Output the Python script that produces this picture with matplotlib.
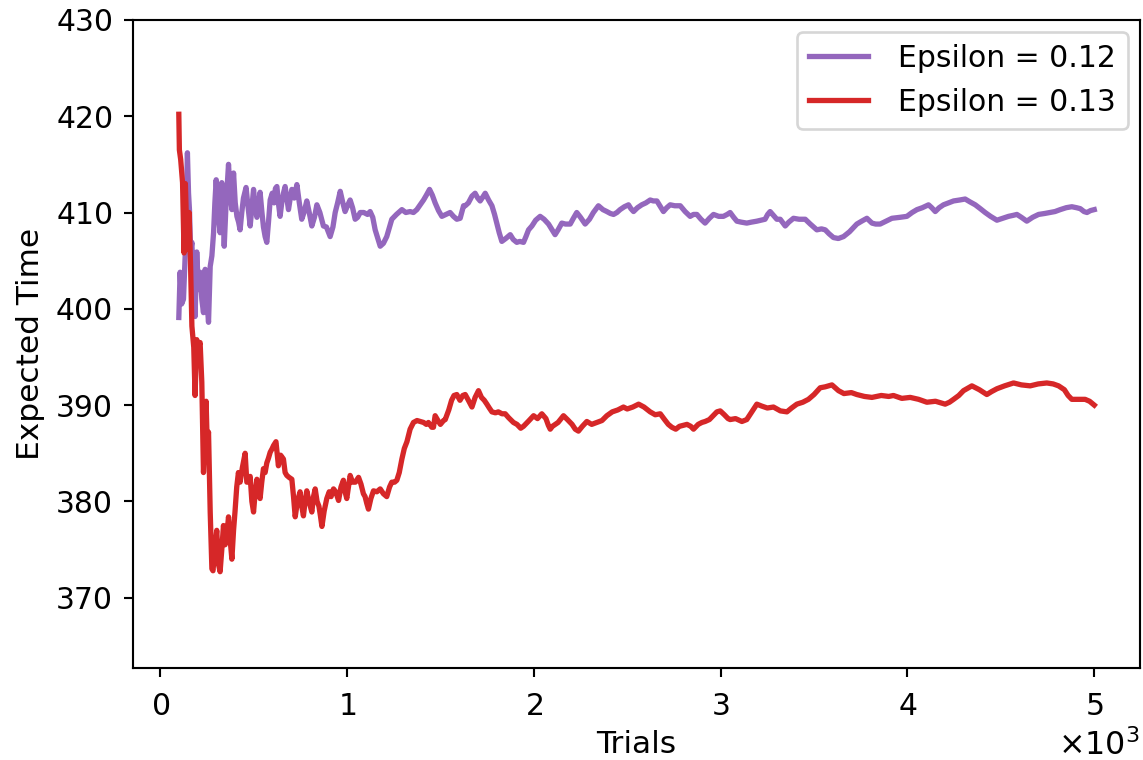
import matplotlib
matplotlib.use("Agg")
import matplotlib.pyplot as plt

# ── 데이터 ─────────────────────────────────────────

trials_012 = [
    100, 107, 115, 125, 135, 146, 152, 157, 163, 170, 178, 187, 196, 205, 214,
    223, 232, 241, 250, 259, 268, 277, 286, 293, 300, 310, 321, 330, 337, 343,
    352, 360, 366, 375, 384, 393, 402, 411, 420, 428, 437, 446, 460, 471, 482,
    491, 500, 509, 518, 527, 535, 545, 553, 562, 571, 580, 589, 600, 610, 617,
    625, 633, 642, 651, 660, 669, 678, 687, 695, 705, 718, 732, 745, 758, 770,
    785, 798, 812, 826, 839, 855, 874, 890, 910, 925, 937, 950, 964, 978, 990,
    1005, 1017, 1030, 1044, 1057, 1071, 1090, 1110, 1124, 1138, 1151, 1165,
    1178, 1195, 1213, 1228, 1240, 1265, 1294, 1315, 1338, 1356, 1374, 1392,
    1410, 1425, 1442, 1457, 1472, 1490, 1508, 1530, 1552, 1570, 1588, 1606,
    1624, 1633, 1650, 1669, 1686, 1700, 1713, 1727, 1740, 1758, 1776, 1790,
    1802, 1815, 1829, 1850, 1874, 1890, 1909, 1925, 1945, 1958, 1972, 1990,
    2010, 2034, 2055, 2079, 2095, 2114, 2130, 2150, 2170, 2195, 2212, 2230,
    2250, 2275, 2298, 2319, 2346, 2370, 2391, 2410, 2427, 2445, 2462, 2485,
    2507, 2520, 2534, 2555, 2578, 2600, 2623, 2640, 2659, 2675, 2694, 2712,
    2730, 2755, 2784, 2810, 2837, 2855, 2873, 2895, 2917, 2940, 2962, 2990,
    3015, 3035, 3051, 3070, 3087, 3110, 3140, 3165, 3194, 3215, 3238, 3252,
    3265, 3283, 3301, 3319, 3346, 3365, 3390, 3420, 3453, 3480, 3515, 3540,
    3560, 3580, 3604, 3630, 3658, 3690, 3729, 3755, 3783, 3810, 3830, 3854,
    3885, 3917, 3960, 3997, 4025, 4051, 4080, 4113, 4130, 4149, 4170, 4193,
    4220, 4247, 4280, 4309, 4335, 4363, 4390, 4416, 4445, 4479, 4510, 4541,
    4565, 4586, 4610, 4639, 4670, 4702, 4735, 4764, 4790, 4818, 4850, 4880,
    4905, 4925, 4945, 4961, 4980, 5000,
]
time_012 = [
    399.1, 403.8, 400.5, 401.0, 406.0, 416.2, 412.0, 410.3, 406.0, 406.9,
    402.0, 399.2, 405.9, 402.0, 403.8, 401.0, 399.6, 404.1, 401.0, 398.6,
    404.4, 405.5, 407.9, 411.0, 413.4, 410.0, 407.9, 413.1, 410.0, 406.5,
    410.5, 413.0, 415.0, 412.0, 410.3, 414.1, 411.0, 409.6, 409.0, 408.2,
    410.0, 411.5, 412.6, 410.5, 408.6, 410.5, 412.4, 410.5, 409.5, 411.0,
    412.1, 410.0, 408.5, 407.5, 406.9, 409.0, 411.3, 412.0, 411.0, 412.5,
    412.7, 411.0, 409.6, 411.0, 412.0, 412.7, 411.5, 410.3, 411.3, 412.4,
    411.5, 412.9, 411.0, 409.3, 410.0, 411.2, 410.0, 408.6, 409.5, 410.8,
    410.0, 408.6, 408.5, 407.5, 408.5, 410.0, 411.0, 412.2, 411.0, 410.1,
    410.8, 411.3, 410.5, 409.3, 409.5, 410.0, 410.0, 409.8, 410.1, 409.5,
    408.2, 407.3, 406.5, 406.8, 407.5, 408.5, 409.3, 409.8, 410.3, 410.0,
    410.1, 410.0, 410.3, 410.8, 411.3, 411.8, 412.4, 411.8, 411.0, 410.2,
    409.6, 409.8, 410.0, 409.6, 409.3, 409.4, 410.7, 410.7, 411.0, 411.7,
    412.0, 411.5, 411.2, 411.6, 412.0, 411.3, 410.7, 409.8, 408.9, 407.9,
    407.0, 407.3, 407.7, 407.2, 406.9, 407.0, 406.9, 407.5, 408.2, 408.6,
    409.2, 409.6, 409.3, 408.8, 408.3, 407.7, 408.2, 408.9, 408.8, 408.8,
    409.4, 410.0, 409.5, 408.8, 409.3, 410.0, 410.7, 410.3, 410.1, 409.9,
    409.8, 410.0, 410.3, 410.6, 410.8, 410.4, 410.1, 410.5, 410.8, 411.0,
    411.3, 411.2, 411.2, 410.7, 410.1, 410.5, 410.8, 410.7, 410.7, 410.1,
    409.6, 409.8, 409.8, 409.3, 408.9, 409.4, 409.8, 409.6, 409.6, 409.8,
    410.0, 409.5, 409.1, 409.0, 408.9, 409.0, 409.1, 409.2, 409.3, 409.8,
    410.1, 409.7, 409.3, 409.3, 408.6, 409.0, 409.4, 409.3, 409.3, 408.8,
    408.2, 408.3, 408.2, 407.8, 407.4, 407.3, 407.5, 408.0, 408.8, 409.1,
    409.4, 408.9, 408.8, 408.8, 409.1, 409.4, 409.5, 409.6, 410.0, 410.3,
    410.5, 410.8, 410.5, 410.1, 410.5, 410.8, 411.0, 411.2, 411.3, 411.4,
    411.1, 410.8, 410.4, 410.0, 409.6, 409.2, 409.4, 409.6, 409.7, 409.8,
    409.5, 409.1, 409.5, 409.8, 409.9, 410.0, 410.1, 410.3, 410.5, 410.6,
    410.5, 410.4, 410.1, 410.0, 410.2, 410.3,
]

trials_013 = [
    100, 103, 110, 120, 128, 135, 145, 155, 163, 170, 180, 187, 196, 205, 214,
    223, 232, 240, 246, 252, 259, 268, 277, 283, 292, 303, 312, 321, 330, 339,
    348, 357, 366, 375, 384, 393, 401, 410, 419, 428, 440, 455, 464, 473, 482,
    491, 500, 509, 518, 527, 535, 544, 553, 562, 571, 580, 589, 600, 607, 620,
    633, 645, 660, 669, 678, 690, 705, 714, 723, 735, 749, 758, 767, 776, 785,
    797, 812, 821, 830, 840, 850, 858, 866, 878, 892, 905, 915, 928, 940, 955,
    968, 981, 990, 999, 1008, 1017, 1030, 1045, 1062, 1075, 1088, 1097, 1106,
    1115, 1128, 1142, 1160, 1178, 1195, 1213, 1228, 1240, 1255, 1267, 1280,
    1294, 1307, 1321, 1338, 1356, 1375, 1392, 1410, 1425, 1436, 1454, 1463,
    1472, 1490, 1500, 1517, 1526, 1545, 1560, 1573, 1588, 1605, 1620, 1633,
    1650, 1669, 1686, 1704, 1720, 1735, 1749, 1762, 1776, 1795, 1810, 1830,
    1847, 1865, 1891, 1910, 1930, 1945, 1970, 1999, 2020, 2043, 2065, 2078,
    2088, 2100, 2130, 2159, 2180, 2205, 2222, 2239, 2260, 2284, 2310, 2338,
    2365, 2391, 2420, 2450, 2480, 2500, 2530, 2561, 2590, 2623, 2650, 2677,
    2700, 2720, 2739, 2760, 2780, 2800, 2820, 2840, 2855, 2880, 2900, 2917,
    2940, 2960, 2980, 2998, 3020, 3040, 3051, 3080, 3114, 3140, 3170, 3194,
    3220, 3250, 3283, 3320, 3355, 3380, 3408, 3440, 3470, 3500, 3533, 3560,
    3596, 3631, 3660, 3700, 3729, 3770, 3810, 3860, 3900, 3925, 3970, 4015,
    4060, 4104, 4150, 4202, 4225, 4247, 4275, 4300, 4345, 4385, 4425, 4450,
    4479, 4520, 4568, 4610, 4657, 4700, 4746, 4780, 4809, 4840, 4860, 4880,
    4920, 4951, 4975, 5000,
]
time_013 = [
    420.2, 416.5, 415.5, 413.1, 405.8, 413.0, 406.2, 410.0, 404.4, 398.2,
    396.0, 391.0, 396.8, 396.0, 396.5, 392.4, 383.0, 386.0, 390.4, 386.0,
    387.2, 378.9, 373.0, 372.8, 375.0, 377.0, 373.5, 372.7, 375.0, 377.5,
    375.5, 376.5, 378.4, 376.0, 374.0, 377.0, 379.0, 381.5, 383.0, 382.0,
    383.5, 385.0, 382.0, 382.0, 382.6, 380.0, 378.9, 381.0, 382.3, 381.0,
    380.3, 382.0, 383.4, 383.0, 384.0, 384.5, 385.1, 385.5, 385.8, 386.2,
    383.7, 384.8, 384.4, 383.0, 382.7, 382.5, 382.3, 380.5, 378.4, 380.0,
    381.0, 379.5, 378.5, 380.0, 381.1, 380.0, 378.9, 380.5, 381.3, 380.0,
    379.5, 378.5, 377.4, 379.0, 380.3, 381.0, 380.5, 381.3, 381.0, 380.1,
    381.5, 382.2, 381.0, 380.3, 381.5, 382.7, 382.0, 382.0, 382.5, 381.8,
    380.8, 380.5, 379.8, 379.2, 380.3, 381.1, 381.0, 381.3, 380.8, 380.5,
    381.5, 382.0, 382.0, 382.2, 383.0, 384.4, 385.5, 386.2, 387.5, 388.2,
    388.4, 388.3, 388.2, 388.0, 388.2, 387.7, 387.7, 388.9, 388.3, 388.0,
    388.4, 388.5, 389.5, 390.5, 391.0, 391.1, 390.5, 391.0, 391.1, 390.5,
    389.8, 390.8, 391.5, 390.8, 390.5, 390.1, 389.7, 389.3, 389.2, 389.3,
    389.1, 389.1, 388.7, 388.2, 388.0, 387.6, 387.8, 388.3, 388.9, 388.6,
    389.1, 388.6, 387.9, 387.5, 387.8, 388.2, 388.9, 388.5, 388.0, 387.5,
    387.3, 387.8, 388.3, 388.0, 388.2, 388.4, 388.9, 389.3, 389.5, 389.8,
    389.6, 389.8, 390.1, 389.8, 389.3, 389.0, 389.1, 388.5, 388.0, 387.7,
    387.5, 387.8, 387.9, 388.0, 387.8, 387.5, 388.0, 388.2, 388.3, 388.5,
    388.9, 389.3, 389.4, 389.0, 388.6, 388.5, 388.6, 388.3, 388.5, 389.4,
    390.1, 389.9, 389.7, 389.8, 389.4, 389.3, 389.7, 390.1, 390.3, 390.6,
    391.1, 391.8, 391.9, 392.1, 391.5, 391.2, 391.3, 391.1, 390.9, 390.8,
    391.0, 390.9, 391.0, 390.7, 390.8, 390.6, 390.3, 390.4, 390.1, 390.3,
    390.6, 391.0, 391.5, 392.0, 391.6, 391.1, 391.4, 391.7, 392.0, 392.3,
    392.1, 392.0, 392.2, 392.3, 392.2, 392.0, 391.6, 391.0, 390.6, 390.6,
    390.6, 390.4, 390.0,
]

labels = ["Epsilon = 0.12", "Epsilon = 0.13"]
colors = ["#9467bd", "#d62728"]

# ── 그리기 ───────────────────────────────────────────

plt.rcParams["font.size"] = 11.3
plt.rcParams["axes.labelsize"] = 11.8
plt.rcParams["xtick.major.pad"] = 5.5
plt.rcParams["ytick.major.pad"] = 4.0

fig, ax = plt.subplots(figsize=(6.0, 3.99), dpi=190.5)
fig.subplots_adjust(left=0.1164, right=0.9974, top=0.9737, bottom=0.121)

ax.plot(trials_012, time_012, color=colors[0], linewidth=2, label=labels[0])
ax.plot(trials_013, time_013, color=colors[1], linewidth=2, label=labels[1])

ax.set_ylim(362.7, 430)
ax.set_yticks([370, 380, 390, 400, 410, 420, 430])
ax.ticklabel_format(style="sci", axis="x", scilimits=(0, 0), useMathText=True)
ax.xaxis.get_offset_text().set_fontsize(12)

ax.set_xlabel("Trials", labelpad=3.5)
ax.set_ylabel("Expected Time")
ax.legend(loc="upper right", handletextpad=1.0, borderaxespad=0.4)

fig.savefig("out.png", dpi=190.5)
plt.close(fig)
